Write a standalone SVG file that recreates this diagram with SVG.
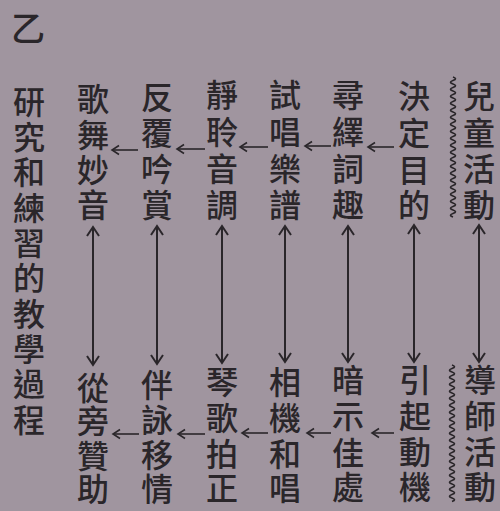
<svg xmlns="http://www.w3.org/2000/svg" width="500" height="511" viewBox="0 0 500 511">
<defs>
<style>
.t{font-family:"Noto Sans CJK TC","Noto Sans CJK SC",sans-serif;font-size:32px;font-weight:500;fill:#2a262a;text-anchor:middle;dominant-baseline:central}
.v{stroke:#2a262a;stroke-width:2;fill:none;marker-start:url(#av);marker-end:url(#av)}
.h{stroke:#2a262a;stroke-width:1.6;fill:none;marker-end:url(#ah)}
.w{stroke:#2a262a;stroke-width:1.7;fill:none}
</style>
<marker id="av" viewBox="-11 -8 13 16" refX="0" refY="0" markerWidth="13" markerHeight="16" markerUnits="userSpaceOnUse" orient="auto-start-reverse">
<path d="M-9,-6 L0,0 L-9,6" fill="none" stroke="#2a262a" stroke-width="2"/>
</marker>
<marker id="ah" viewBox="-9 -6 11 12" refX="0" refY="0" markerWidth="11" markerHeight="12" markerUnits="userSpaceOnUse" orient="auto">
<path d="M-7,-4.5 L0,0 L-7,4.5" fill="none" stroke="#2a262a" stroke-width="1.6"/>
</marker>
</defs>
<rect width="500" height="511" fill="#a0959f"/>
<text class="t" x="28" y="26" style="font-size:34px">乙</text>
<g id="title"><text class="t" x="29 29 29 29 29 29 29 29 29 29" y="100 135 170 206 241 276 312 347 382 418">研究和練習的教學過程</text></g>
<g id="n-child"><text class="t" x="479 479 479 479" y="94 131 167 203">兒童活動</text>
<path class="w" d="M453 77 q5 1.75 0 3.5 t0 3.5 t0 3.5 t0 3.5 t0 3.5 t0 3.5 t0 3.5 t0 3.5 t0 3.5 t0 3.5 t0 3.5 t0 3.5 t0 3.5 t0 3.5 t0 3.5 t0 3.5 t0 3.5 t0 3.5 t0 3.5 t0 3.5 t0 3.5 t0 3.5 t0 3.5 t0 3.5 t0 3.5 t0 3.5 t0 3.5 t0 3.5 t0 3.5 t0 3.5 t0 3.5 t0 3.5 t0 3.5 t0 3.5 t0 3.5 t0 3.5 t0 3.5 t0 3.5 t0 3.5 t0 3.5"/></g>
<g id="n-teacher"><text class="t" x="480 480 480 480" y="378 414 450 485">導師活動</text>
<path class="w" d="M452 365 q5 1.75 0 3.5 t0 3.5 t0 3.5 t0 3.5 t0 3.5 t0 3.5 t0 3.5 t0 3.5 t0 3.5 t0 3.5 t0 3.5 t0 3.5 t0 3.5 t0 3.5 t0 3.5 t0 3.5 t0 3.5 t0 3.5 t0 3.5 t0 3.5 t0 3.5 t0 3.5 t0 3.5 t0 3.5 t0 3.5 t0 3.5 t0 3.5 t0 3.5 t0 3.5 t0 3.5 t0 3.5 t0 3.5 t0 3.5 t0 3.5 t0 3.5 t0 3.5 t0 3.5 t0 3.5 t0 3.5"/></g>
<g id="n1"><text class="t" x="414 414 414 414" y="94 131 168 203">決定目的</text></g>
<g id="n2"><text class="t" x="348 348 348 348" y="93 130 167 203">尋繹詞趣</text></g>
<g id="n3"><text class="t" x="285 285 285 285" y="93 130 167 203">試唱樂譜</text></g>
<g id="n4"><text class="t" x="222 222 222 222" y="93 130 167 203">靜聆音調</text></g>
<g id="n5"><text class="t" x="157 157 157 157" y="95 131 167 203">反覆吟賞</text></g>
<g id="n6"><text class="t" x="93 93 93 93" y="97 133 168 203">歌舞妙音</text></g>
<g id="m1"><text class="t" x="415 415 415 415" y="378 414 450 485">引起動機</text></g>
<g id="m2"><text class="t" x="348 348 348 348" y="378 414 451 485">暗示佳處</text></g>
<g id="m3"><text class="t" x="285 285 285 285" y="380 416 452 486">相機和唱</text></g>
<g id="m4"><text class="t" x="222 222 222 222" y="380 416 452 486">琴歌拍正</text></g>
<g id="m5"><text class="t" x="157 157 157 157" y="383 418 453 487">伴詠移情</text></g>
<g id="m6"><text class="t" x="93 93 93 93" y="386 419 454 487">從旁贊助</text></g>
<g id="connectors">
<line class="v" x1="479" y1="225" x2="479" y2="362"/>
<line class="v" x1="414" y1="225" x2="414" y2="362"/>
<line class="v" x1="348" y1="226" x2="348" y2="362"/>
<line class="v" x1="285" y1="226" x2="285" y2="362"/>
<line class="v" x1="222" y1="226" x2="222" y2="363"/>
<line class="v" x1="157" y1="226" x2="157" y2="364"/>
<line class="v" x1="93" y1="227" x2="93" y2="365"/>
<line class="h" x1="394" y1="147" x2="368" y2="147"/>
<line class="h" x1="331" y1="146" x2="305" y2="146"/>
<line class="h" x1="268" y1="147" x2="240" y2="147"/>
<line class="h" x1="205" y1="149" x2="177" y2="149"/>
<line class="h" x1="138" y1="150" x2="112" y2="150"/>
<line class="h" x1="394" y1="433" x2="372" y2="433"/>
<line class="h" x1="331" y1="433" x2="307" y2="433"/>
<line class="h" x1="268" y1="433" x2="242" y2="433"/>
<line class="h" x1="205" y1="434" x2="178" y2="434"/>
<line class="h" x1="139" y1="434" x2="113" y2="434"/>
</g>
</svg>
